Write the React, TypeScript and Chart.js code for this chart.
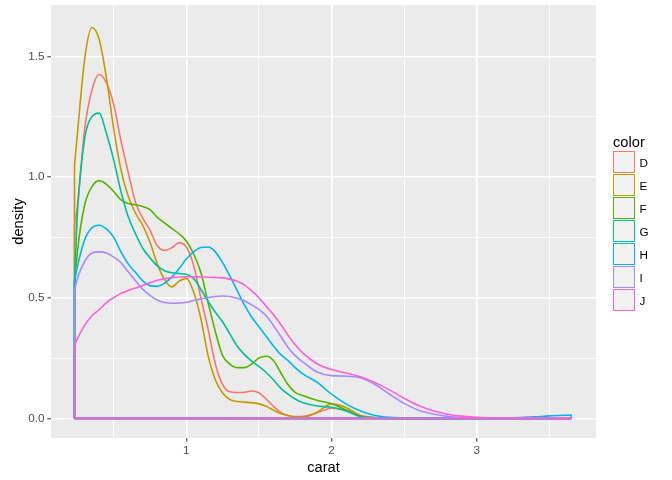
import React, { useEffect, useRef } from "react";
import { Chart, registerables } from "chart.js";

Chart.register(...registerables);

// ---- data ----
const carat = [
  0.23, 0.25, 0.3, 0.35, 0.4, 0.45, 0.5, 0.55, 0.6, 0.65, 0.7, 0.75, 0.8, 0.85, 0.9, 0.95,
  1.0, 1.05, 1.1, 1.15, 1.2, 1.25, 1.3, 1.35, 1.4, 1.45, 1.5, 1.55, 1.6, 1.65, 1.7, 1.75,
  1.8, 1.9, 2.0, 2.1, 2.2, 2.3, 2.4, 2.5, 2.6, 2.7, 2.8, 2.9, 3.0, 3.1, 3.2, 3.3, 3.4, 3.5, 3.65,
];

const groups = ["D", "E", "F", "G", "H", "I", "J"];
const colors = ["#F8766D", "#C49A00", "#53B400", "#00C094", "#00B6EB", "#A58AFF", "#FB61D7"];

const densityD = [
  0.8, 0.88, 1.2, 1.36, 1.425, 1.39, 1.3, 1.15, 1.02, 0.895, 0.83, 0.78, 0.715, 0.696, 0.707, 0.727,
  0.71, 0.635, 0.5, 0.37, 0.225, 0.14, 0.11, 0.107, 0.108, 0.113, 0.106, 0.08, 0.05, 0.025, 0.012, 0.007,
  0.008, 0.022, 0.042, 0.035, 0.012, 0.003, 0, 0, 0, 0, 0, 0, 0, 0, 0, 0, 0, 0, 0,
];
const densityE = [
  1.05, 1.18, 1.49, 1.62, 1.57, 1.41, 1.2, 1.03, 0.92, 0.85, 0.8, 0.73, 0.64, 0.575, 0.545, 0.568,
  0.58, 0.525, 0.415, 0.26, 0.16, 0.105, 0.078, 0.07, 0.067, 0.065, 0.06, 0.05, 0.034, 0.02, 0.012, 0.005,
  0.004, 0.025, 0.06, 0.045, 0.012, 0.002, 0, 0, 0, 0, 0, 0, 0, 0, 0, 0, 0, 0, 0,
];
const densityF = [
  0.545, 0.69, 0.885, 0.96, 0.985, 0.97, 0.94, 0.905, 0.89, 0.885, 0.878, 0.865, 0.833, 0.81, 0.787, 0.765,
  0.735, 0.682, 0.605, 0.48, 0.36, 0.26, 0.225, 0.21, 0.21, 0.225, 0.25, 0.257, 0.24, 0.19, 0.14, 0.108,
  0.095, 0.075, 0.06, 0.035, 0.008, 0.002, 0, 0, 0, 0, 0, 0, 0, 0, 0, 0, 0, 0, 0,
];
const densityG = [
  0.56, 0.85, 1.16, 1.25, 1.265, 1.18, 1.07, 0.94, 0.835, 0.765, 0.705, 0.665, 0.632, 0.612, 0.603, 0.6,
  0.597, 0.58, 0.535, 0.485, 0.44, 0.4, 0.35, 0.3, 0.265, 0.237, 0.215, 0.19, 0.16, 0.125, 0.1, 0.08,
  0.066, 0.051, 0.046, 0.03, 0.007, 0.002, 0, 0, 0, 0, 0, 0, 0, 0, 0, 0, 0, 0, 0,
];
const densityH = [
  0.57, 0.63, 0.74, 0.79, 0.8, 0.785, 0.75, 0.69, 0.64, 0.605, 0.57, 0.55, 0.547, 0.56, 0.585, 0.62,
  0.66, 0.69, 0.708, 0.71, 0.69, 0.645, 0.59, 0.53, 0.47, 0.42, 0.38, 0.34, 0.3, 0.265, 0.24, 0.21,
  0.185, 0.15, 0.1, 0.06, 0.03, 0.012, 0.004, 0.002, 0.001, 0, 0, 0, 0, 0.0005, 0.001, 0.003, 0.006, 0.01, 0.014,
];
const densityI = [
  0.53, 0.58, 0.65, 0.685, 0.69, 0.685, 0.668, 0.645, 0.607, 0.57, 0.535, 0.51, 0.49, 0.48, 0.477, 0.478,
  0.481, 0.488, 0.495, 0.5, 0.505, 0.507, 0.505, 0.498, 0.487, 0.47, 0.452, 0.425, 0.385, 0.34, 0.295, 0.26,
  0.235, 0.192, 0.177, 0.175, 0.168, 0.14, 0.1, 0.062, 0.034, 0.018, 0.008, 0.003, 0.001, 0, 0, 0, 0, 0, 0,
];
const densityJ = [
  0.3, 0.33, 0.385, 0.425, 0.45, 0.48, 0.5, 0.518, 0.53, 0.54, 0.55, 0.562, 0.572, 0.578, 0.583, 0.586,
  0.587, 0.587, 0.586, 0.585, 0.584, 0.582, 0.577, 0.568, 0.553, 0.528, 0.5, 0.465, 0.43, 0.39, 0.345, 0.305,
  0.272, 0.226, 0.202, 0.188, 0.172, 0.148, 0.118, 0.083, 0.053, 0.031, 0.017, 0.009, 0.004, 0.002, 0.001, 0, 0, 0, 0,
];

const seriesValues = [densityD, densityE, densityF, densityG, densityH, densityI, densityJ];

const xTickLabels = [1, 2, 3];
const xMinorTicks = [0.5, 1.5, 2.5, 3.5];
const yTickLabels = [0, 0.5, 1.0, 1.5];
const yMinorTicks = [0.25, 0.75, 1.25];

const FONT = "'Liberation Sans', Arial, Helvetica, sans-serif";

const panelBackground = {
  id: "panelBackground",
  beforeDraw(chart: any) {
    const { ctx, chartArea: a } = chart;
    ctx.save();
    ctx.fillStyle = "#EBEBEB";
    ctx.fillRect(a.left, a.top, a.right - a.left, a.bottom - a.top);
    ctx.restore();
  },
};

export default function App() {
  const canvasRef = useRef<HTMLCanvasElement | null>(null);

  useEffect(() => {
    const canvas = canvasRef.current;
    if (!canvas) return;

    const datasets: any[] = [];
    seriesValues.forEach((vals, i) => {
      const color = colors[i];
      datasets.push({
        label: groups[i],
        data: carat.map((x, k) => ({ x, y: vals[k] })),
        borderColor: color,
        backgroundColor: color,
        borderWidth: 1.6,
        pointRadius: 0,
        pointHoverRadius: 0,
        fill: false,
        cubicInterpolationMode: "monotone",
        borderJoinStyle: "round",
        borderCapStyle: "round",
        order: groups.length - i,
      });
      const xs = carat[0];
      const xe = carat[carat.length - 1];
      datasets.push({
        label: groups[i] + "-outline",
        data: [
          { x: xe, y: vals[vals.length - 1] },
          { x: xe, y: 0 },
          { x: xs, y: 0 },
          { x: xs, y: vals[0] },
        ],
        borderColor: color,
        backgroundColor: color,
        borderWidth: 1.6,
        pointRadius: 0,
        pointHoverRadius: 0,
        fill: false,
        tension: 0,
        borderJoinStyle: "round",
        borderCapStyle: "round",
        order: groups.length - i,
      });
    });

    const xGrid = [...xMinorTicks, ...xTickLabels].sort((a, b) => a - b);
    const yGrid = [...yMinorTicks, ...yTickLabels].sort((a, b) => a - b);
    const isXMajor = (v: number) => xTickLabels.includes(v);
    const isYMajor = (v: number) => yTickLabels.includes(v);

    const chart = new Chart(canvas, {
      type: "line",
      data: { datasets },
      plugins: [panelBackground],
      options: {
        animation: false,
        responsive: false,
        devicePixelRatio: 1,
        events: [],
        layout: { padding: { left: 0, right: 76, top: 5, bottom: 0 } },
        plugins: {
          legend: { display: false },
          tooltip: { enabled: false },
        },
        scales: {
          x: {
            type: "linear",
            min: 0.068,
            max: 3.822,
            afterFit: (s: any) => {
              s.height = 42;
              s.paddingLeft = 0;
              s.paddingRight = 0;
            },
            afterBuildTicks: (s: any) => {
              s.ticks = xGrid.map((v) => ({ value: v }));
            },
            border: { display: false },
            grid: {
              color: "#FFFFFF",
              lineWidth: (ctx: any) => (ctx.tick && isXMajor(ctx.tick.value) ? 1.6 : 0.8),
              drawTicks: true,
              tickLength: 3.7,
              tickWidth: 1,
              tickColor: (ctx: any) => (ctx.tick && isXMajor(ctx.tick.value) ? "#333333" : "rgba(0,0,0,0)"),
            },
            ticks: {
              autoSkip: false,
              maxRotation: 0,
              padding: 2.5,
              color: "#4D4D4D",
              font: { family: FONT, size: 11.7 },
              callback: (v: any) => (isXMajor(Number(v)) ? String(v) : ""),
            },
            title: {
              display: true,
              text: "carat",
              color: "#000000",
              font: { family: FONT, size: 14.67 },
              padding: { top: 0, bottom: 3 },
            },
          },
          y: {
            type: "linear",
            min: -0.0815,
            max: 1.713,
            afterFit: (s: any) => {
              s.width = 51;
              s.paddingTop = 0;
              s.paddingBottom = 0;
            },
            afterBuildTicks: (s: any) => {
              s.ticks = yGrid.map((v) => ({ value: v }));
            },
            border: { display: false },
            grid: {
              color: "#FFFFFF",
              lineWidth: (ctx: any) => (ctx.tick && isYMajor(ctx.tick.value) ? 1.6 : 0.8),
              drawTicks: true,
              tickLength: 3.7,
              tickWidth: 1,
              tickColor: (ctx: any) => (ctx.tick && isYMajor(ctx.tick.value) ? "#333333" : "rgba(0,0,0,0)"),
            },
            ticks: {
              autoSkip: false,
              padding: 2.9,
              color: "#4D4D4D",
              font: { family: FONT, size: 11.7 },
              callback: (v: any) => (isYMajor(Number(v)) ? Number(v).toFixed(1) : ""),
            },
            title: {
              display: true,
              text: "density",
              color: "#000000",
              font: { family: FONT, size: 14.67 },
              padding: { top: 10, bottom: 0 },
            },
          },
        },
      } as any,
    });

    return () => {
      chart.destroy();
    };
  }, []);

  return (
    <div
      style={{
        position: "absolute",
        left: 0,
        top: 0,
        width: 672,
        height: 480,
        background: "#FFFFFF",
        fontFamily: FONT,
      }}
    >
      <canvas ref={canvasRef} width={672} height={480} style={{ display: "block", width: 672, height: 480 }} />
      <div style={{ position: "absolute", left: 613, top: 133.5 }}>
        <div style={{ fontSize: 14.67, lineHeight: "17px", height: 17, marginBottom: 0, color: "#000" }}>color</div>
        {groups.map((g, i) => (
          <div key={g} style={{ display: "flex", alignItems: "center", height: 23 }}>
            <div
              style={{
                width: 22,
                height: 22,
                boxSizing: "border-box",
                border: `1.5px solid ${colors[i]}`,
                background: "#F2F2F2",
              }}
            />
            <span style={{ marginLeft: 4.5, fontSize: 11.7, color: "#000" }}>{g}</span>
          </div>
        ))}
      </div>
    </div>
  );
}
